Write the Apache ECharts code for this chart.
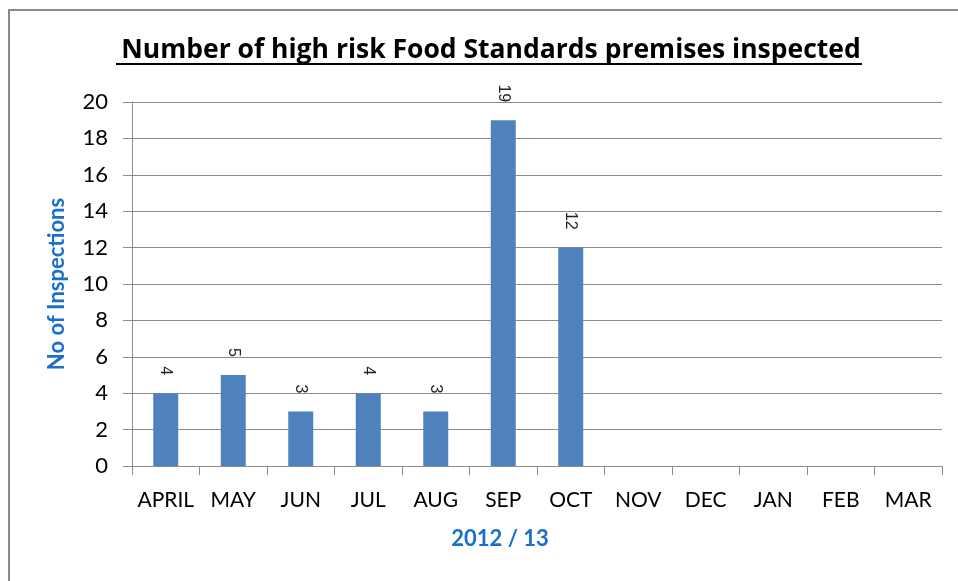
<!DOCTYPE html>
<html>
<head>
<meta charset="utf-8">
<script src="https://cdn.jsdelivr.net/npm/echarts@6/dist/echarts.min.js"></script>
<style>
  html, body { margin: 0; padding: 0; background: #fff; }
  #chart { width: 958px; height: 581px; }
</style>
</head>
<body>
<div id="chart"></div>
<script>
// months of the 2012/13 year
const months = ['APRIL', 'MAY', 'JUN', 'JUL', 'AUG', 'SEP', 'OCT', 'NOV', 'DEC', 'JAN', 'FEB', 'MAR']
// inspections per month (no data yet from NOV)
const inspections = [4, 5, 3, 4, 3, 19, 12, null, null, null, null, null]
const yMin = 0
const yMax = 20
const yStep = 2

const font = 'Lato, "Open Sans", sans-serif'
const gridColor = '#8c8c8c'

const chart = echarts.init(document.getElementById('chart'))

chart.setOption({
  animation: false,
  title: {
    text: 'Number of high risk Food Standards premises inspected',
    left: 486,
    top: 32,
    textAlign: 'center',
    textStyle: {
      fontFamily: '"Open Sans", Lato, sans-serif',
      fontSize: 26.5,
      fontWeight: 'bold',
      color: '#000'
    }
  },
  graphic: [
    {
      type: 'rect',
      shape: { x: 9, y: 10, width: 980, height: 600 },
      style: { fill: 'none', stroke: '#8a8a8a', lineWidth: 2 },
      silent: true
    },
    {
      type: 'line',
      shape: { x1: 116, y1: 64, x2: 862, y2: 64 },
      style: { stroke: '#000', lineWidth: 2 },
      silent: true
    }
  ],
  grid: {
    left: 132,
    right: 16,
    top: 102,
    bottom: 115
  },
  xAxis: {
    type: 'category',
    data: months,
    name: '2012 / 13',
    nameLocation: 'middle',
    nameGap: 62,
    nameTextStyle: {
      fontFamily: font,
      fontSize: 22,
      fontWeight: 'bold',
      color: '#1a6fcc',
      padding: [0, 74, 0, 0]
    },
    axisLine: { lineStyle: { color: gridColor, width: 1 } },
    axisTick: { show: true, length: 9, lineStyle: { color: gridColor } },
    axisLabel: {
      fontFamily: font,
      fontSize: 21,
      color: '#000',
      margin: 24,
      interval: 0
    }
  },
  yAxis: {
    type: 'value',
    min: yMin,
    max: yMax,
    interval: yStep,
    name: 'No of Inspections',
    nameLocation: 'middle',
    nameGap: 64,
    nameRotate: 90,
    nameTextStyle: {
      fontFamily: font,
      fontSize: 22,
      fontWeight: 'bold',
      color: '#1a6fcc'
    },
    axisLine: { show: true, lineStyle: { color: gridColor, width: 1 } },
    axisTick: { show: true, length: 9, lineStyle: { color: gridColor } },
    axisLabel: {
      fontFamily: font,
      fontSize: 22,
      color: '#000',
      margin: 24
    },
    splitLine: { lineStyle: { color: gridColor, width: 1 } }
  },
  series: [
    {
      type: 'bar',
      data: inspections,
      barWidth: '37%',
      itemStyle: { color: '#4f81bd' },
      label: {
        show: true,
        position: 'top',
        rotate: -90,
        align: 'right',
        verticalAlign: 'middle',
        distance: 18,
        fontFamily: '"Liberation Sans", Arial, sans-serif',
        fontSize: 16,
        color: '#222'
      }
    }
  ]
})
</script>
</body>
</html>
